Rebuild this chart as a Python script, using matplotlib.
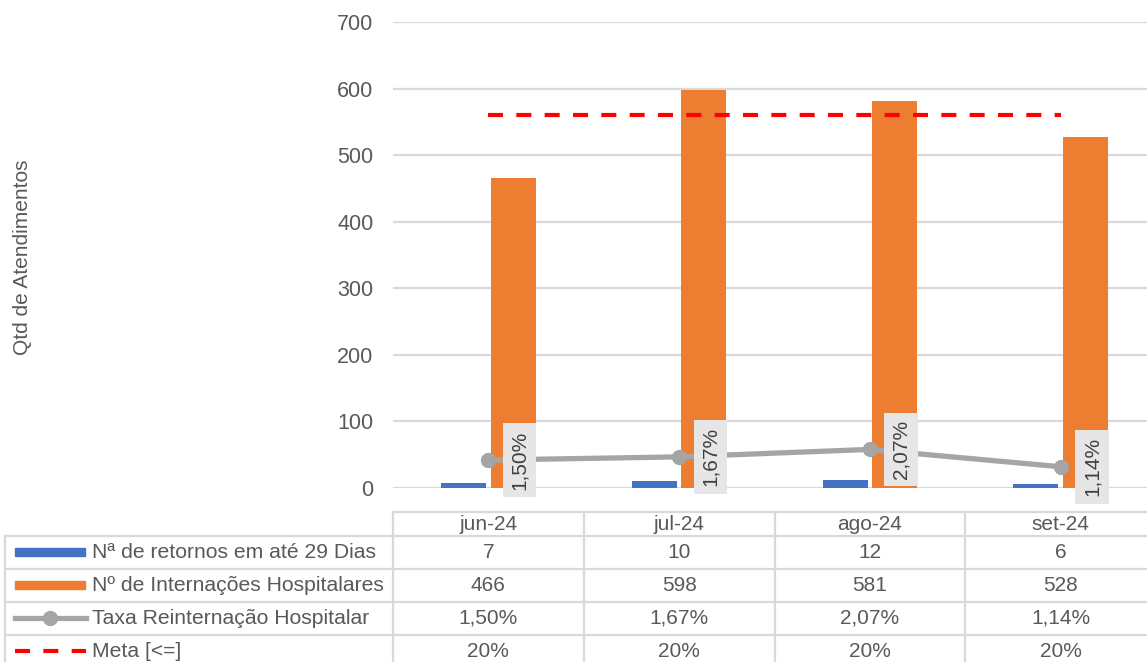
import matplotlib.pyplot as plt
from matplotlib.transforms import blended_transform_factory
from matplotlib.patches import Rectangle
from matplotlib.lines import Line2D

plt.rcParams['font.family'] = ['Liberation Sans', 'DejaVu Sans']

# data
meses = ['jun-24', 'jul-24', 'ago-24', 'set-24']
retornos = [7, 10, 12, 6]
internacoes = [466, 598, 581, 528]
taxa = [0.0150, 0.0167, 0.0207, 0.0114]
meta = [0.20, 0.20, 0.20, 0.20]
series_nomes = ['Nª de retornos em até 29 Dias', 'Nº de Internações Hospitalares',
                'Taxa Reinternação Hospitalar', 'Meta [<=]']

azul = '#4472C4'
laranja = '#ED7D31'
cinza = '#A5A5A5'
vermelho = '#FF0000'
texto = '#595959'
grade = '#D9D9D9'


def pct(v, casas=2):
    return f'{v * 100:.{casas}f}%'.replace('.', ',')


W, H = 1147, 662
fig = plt.figure(figsize=(W / 100, H / 100), dpi=100)
ax = fig.add_axes([393 / W, 1 - 488 / H, 763 / W, (488 - 22) / H])
x = list(range(len(meses)))

ax.set_xlim(-0.5, len(meses) - 0.5)
ax.set_ylim(0, 700)
ax.set_yticks(range(0, 701, 100))
ax.grid(axis='y', color=grade, lw=1.6)
ax.set_axisbelow(True)
for s in ax.spines.values():
    s.set_visible(False)
ax.tick_params(axis='y', length=0, pad=14, labelsize=15.5, labelcolor=texto)
ax.tick_params(axis='x', length=0, labelbottom=False)

w = 0.236
ax.bar([i - 0.13 for i in x], retornos, width=w, color=azul, zorder=2)
ax.bar([i + 0.13 for i in x], internacoes, width=w, color=laranja, zorder=2)

ax2 = ax.twinx()
ax2.set_ylim(0, 0.25)
ax2.axis('off')
ax2.plot(x, taxa, color=cinza, lw=3.8, marker='o', ms=10, zorder=3)
ax2.plot(x, meta, color=vermelho, lw=3, dashes=(3.6, 3.2), zorder=3)
for i, v in zip(x, taxa):
    ax2.annotate(pct(v), (i, v), xytext=(22.5, 0), textcoords='offset points',
                 rotation=90, ha='center', va='center', fontsize=15, color='#404040',
                 bbox=dict(boxstyle='square,pad=0.35', fc='#E7E6E6', ec='none'),
                 annotation_clip=False, zorder=4)

fig.text(23 / W, 1 - 257 / H, 'Qtd de Atendimentos', rotation=90, ha='center',
         va='center', fontsize=15, color=texto)

# data table
tr = blended_transform_factory(ax.transData, fig.transFigure)


def fy(py):
    return 1 - py / H


linhas_y = [512, 536, 569, 602, 635, 668]
lk = dict(color=grade, lw=1.6, clip_on=False)
fig.add_artist(Line2D([-0.5, 3.5], [fy(512)] * 2, transform=tr, **lk))
for py in linhas_y[1:]:
    fig.add_artist(Line2D([5 / W, 393 / W], [fy(py)] * 2, transform=fig.transFigure, **lk))
    fig.add_artist(Line2D([-0.5, 3.5], [fy(py)] * 2, transform=tr, **lk))
for xc in [i - 0.5 for i in range(len(meses) + 1)]:
    fig.add_artist(Line2D([xc, xc], [fy(512), fy(668)], transform=tr, **lk))
fig.add_artist(Line2D([5 / W] * 2, [fy(536), fy(668)], transform=fig.transFigure, **lk))

valores = [[str(v) for v in retornos], [str(v) for v in internacoes],
           [pct(v) for v in taxa], [pct(v, 0) for v in meta]]
for i, m in enumerate(meses):
    fig.text(i, fy(524), m, transform=tr, ha='center', va='center', fontsize=15, color=texto)
    for r, vals in enumerate(valores):
        yc = (linhas_y[r + 1] + linhas_y[r + 2]) / 2
        fig.text(i, fy(yc), vals[i], transform=tr, ha='center', va='center',
                 fontsize=15, color=texto)

# legend keys
ft = fig.transFigure
for r, nome in enumerate(series_nomes):
    yc = (linhas_y[r + 1] + linhas_y[r + 2]) / 2
    fig.text(92 / W, fy(yc), nome, ha='left', va='center', fontsize=15.2, color=texto)
fig.add_artist(Rectangle((15 / W, fy(556)), 70 / W, 8 / H, transform=ft, color=azul))
fig.add_artist(Rectangle((15 / W, fy(589)), 70 / W, 8 / H, transform=ft, color=laranja))
fig.add_artist(Line2D([15 / W, 86 / W], [fy(618)] * 2, transform=ft, color=cinza, lw=3.8))
fig.add_artist(Line2D([50 / W], [fy(618)], transform=ft, color=cinza, marker='o', ms=10, lw=0))
fig.add_artist(Line2D([15 / W, 86 / W], [fy(651)] * 2, transform=ft, color=vermelho,
                      lw=3, dashes=(3.6, 3.2)))

fig.savefig('out.png', dpi=100)
